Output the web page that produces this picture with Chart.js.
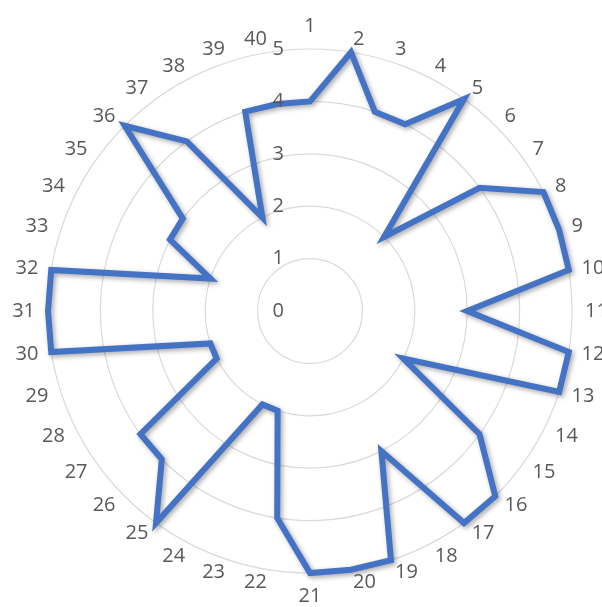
<!DOCTYPE html>
<html>
<head>
<meta charset="utf-8">
<script src="https://cdn.jsdelivr.net/npm/chart.js@4.4.0/dist/chart.umd.min.js"></script>
<style>
  html, body { margin: 0; padding: 0; background: #fff; }
  #wrap { width: 602px; height: 607px; position: relative; }
</style>
</head>
<body>
<div id="wrap"><canvas id="chart"></canvas></div>
<script>
// ─── Data ─────────────────────────────────────────────
const categories = ['1','2','3','4','5','6','7','8','9','10',
                    '11','12','13','14','15','16','17','18','19','20',
                    '21','22','23','24','25','26','27','28','29','30',
                    '31','32','33','34','35','36','37','38','39','40'];
const values = [4,5,4,4,5,2,4,5,5,5,
                3,5,5,2,4,5,5,3,5,5,
                5,4,2,2,5,4,4,2,2,5,
                5,5,2,3,3,5,4,2,4,4];
const tickLabels = ['0','1','2','3','4','5'];

const FONT = '20px "Open Sans"';
const TEXT = '#595959';

// Excel-like soft shadow under the series line
const shadowPlugin = {
  id: 'lineShadow',
  beforeDatasetDraw(chart) {
    const c = chart.ctx;
    c.save();
    c.shadowColor = 'rgba(0,0,0,0.35)';
    c.shadowBlur = 5;
    c.shadowOffsetX = 2;
    c.shadowOffsetY = 2;
  },
  afterDatasetDraw(chart) { chart.ctx.restore(); },
};

// value ticks left of the axis, category labels outside the ring
const labelPlugin = {
  id: 'excelLabels',
  afterDatasetsDraw(chart) {
    const s = chart.scales.r;
    const ctx = chart.ctx;
    ctx.save();
    ctx.font = FONT;
    ctx.fillStyle = TEXT;

    ctx.textAlign = 'right';
    ctx.textBaseline = 'middle';
    tickLabels.forEach(t => {
      const d = s.getDistanceFromCenterForValue(Number(t));
      ctx.fillText(t, s.xCenter - 26, s.yCenter - d);
    });

    const R = s.drawingArea + 13;
    categories.forEach((c, i) => {
      const p = s.getPointPosition(i, R);
      const dx = Math.cos(p.angle), dy = Math.sin(p.angle);
      if (dx > 0.01) { ctx.textAlign = 'left'; ctx.textBaseline = 'middle'; }
      else if (dx < -0.01) { ctx.textAlign = 'right'; ctx.textBaseline = 'middle'; }
      else { ctx.textAlign = 'center'; ctx.textBaseline = dy < 0 ? 'bottom' : 'top'; }
      ctx.fillText(c, p.x, p.y);
    });
    ctx.restore();
  },
};

new Chart(document.getElementById('chart'), {
  type: 'radar',
  data: {
    labels: categories,
    datasets: [{
      data: values,
      borderColor: '#4472C4',
      borderWidth: 6,
      borderJoinStyle: 'miter',
      fill: false,
      pointRadius: 0,
      pointHoverRadius: 0,
      tension: 0,
    }],
  },
  options: {
    responsive: true,
    maintainAspectRatio: false,
    animation: false,
    layout: { padding: { left: 48, right: 30, top: 49, bottom: 34 } },
    plugins: { legend: { display: false }, tooltip: { enabled: false } },
    scales: {
      r: {
        min: 0,
        max: 5,
        ticks: { stepSize: 1, display: false },
        grid: { circular: true, color: '#d9d9d9', lineWidth: 1.2 },
        angleLines: { display: false },
        pointLabels: { display: false },
      },
    },
  },
  plugins: [shadowPlugin, labelPlugin],
});
</script>
</body>
</html>
